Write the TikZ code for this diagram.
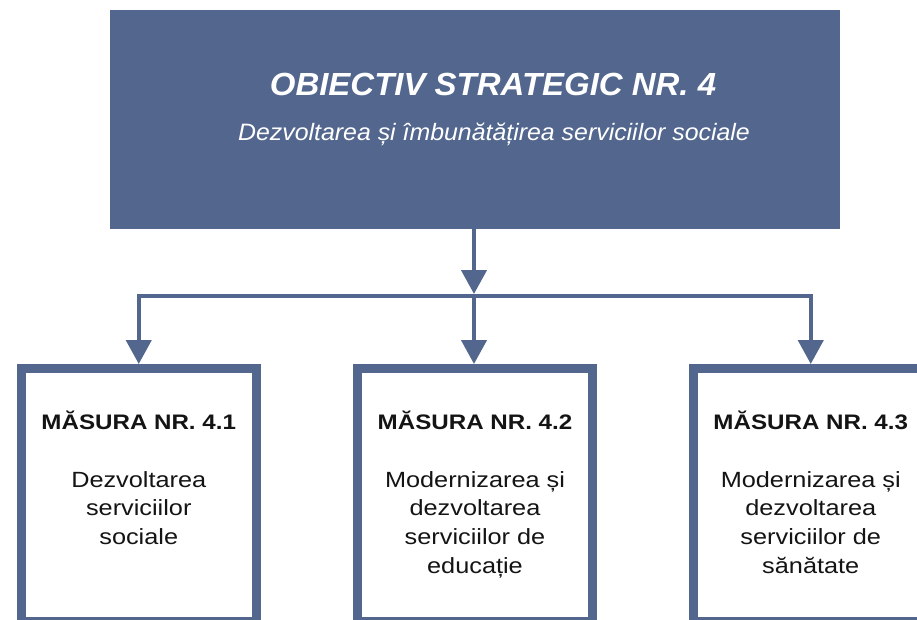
\documentclass[tikz,border=0pt]{standalone}
\usepackage{fontspec}
\setmainfont{Liberation Sans}
\newfontfamily\topfont[FakeStretch=1.03]{Liberation Sans}
\newfontfamily\subfont[FakeStretch=1.05]{Liberation Sans}
\newfontfamily\boxfont[FakeStretch=1.15]{Liberation Sans}
\usetikzlibrary{arrows.meta}
\definecolor{navy}{RGB}{82,102,142}
\definecolor{ink}{RGB}{20,20,20}
\begin{document}
\begin{tikzpicture}[x=1pt,y=-1pt,
  topbox/.style={fill=navy, draw=none, minimum width=730pt, minimum height=219pt, inner sep=0pt, outer sep=0pt},
  mbox/.style={draw=navy, line width=8.5pt, fill=white, minimum width=235pt, minimum height=253.25pt, inner sep=0pt},
  conn/.style={draw=navy, line width=4.3pt, line join=miter},
  tipped/.style={-{Triangle[length=24pt,width=25pt]}},
  toptitle/.style={font=\topfont\bfseries\itshape\fontsize{32}{38}\selectfont, text=white, anchor=base, inner sep=0pt},
  topsub/.style={font=\subfont\itshape\fontsize{23.7}{28}\selectfont, text=white, anchor=base, inner sep=0pt},
  mtitle/.style={font=\boxfont\bfseries\fontsize{21}{25}\selectfont, text=ink, anchor=base, inner sep=0pt},
  bodytxt/.style={font=\boxfont\fontsize{22}{28}\selectfont, text=ink, anchor=base, inner sep=0pt}
]
\useasboundingbox (0,0) rectangle (917,620);
\clip (0,0) rectangle (917,620);

% top box
\node[topbox] (top) at (475,119.5) {};
\node[toptitle] (ttl) at (493,96) {OBIECTIV STRATEGIC NR. 4};
\node[topsub] (tsub) at (494,141) {Dezvoltarea și îmbunătățirea serviciilor sociale};

% measure boxes
\node[mbox] (b1) at (138.75,494.9) {};
\node[mbox] (b2) at (475,494.9) {};
\node[mbox] (b3) at (810.75,494.9) {};

% connectors
\coordinate (hm) at (474,296);
\coordinate (hmtop) at (474,294);
\draw[conn,tipped] (top.south -| hm) -- (hmtop);
\draw[conn,tipped] (hm) -| (b1.north);
\draw[conn,tipped] (hm) -| (b3.north);
\draw[conn,tipped] (hm) -- (b2.north -| hm);

% box 1 text
\node[mtitle] (m1) at (138.75,429) {MĂSURA NR. 4.1};
\node[bodytxt] (m1a) at (138.75,487) {Dezvoltarea};
\node[bodytxt] (m1b) at (138.75,515.7) {serviciilor};
\node[bodytxt] (m1c) at (138.75,544.4) {sociale};

% box 2 text
\node[mtitle] (m2) at (475,429) {MĂSURA NR. 4.2};
\node[bodytxt] (m2a) at (475,487) {Modernizarea și};
\node[bodytxt] (m2b) at (475,515.7) {dezvoltarea};
\node[bodytxt] (m2c) at (475,544.4) {serviciilor de};
\node[bodytxt] (m2d) at (475,573.1) {educație};

% box 3 text
\node[mtitle] (m3) at (810.75,429) {MĂSURA NR. 4.3};
\node[bodytxt] (m3a) at (810.75,487) {Modernizarea și};
\node[bodytxt] (m3b) at (810.75,515.7) {dezvoltarea};
\node[bodytxt] (m3c) at (810.75,544.4) {serviciilor de};
\node[bodytxt] (m3d) at (810.75,573.1) {sănătate};
\end{tikzpicture}
\end{document}
